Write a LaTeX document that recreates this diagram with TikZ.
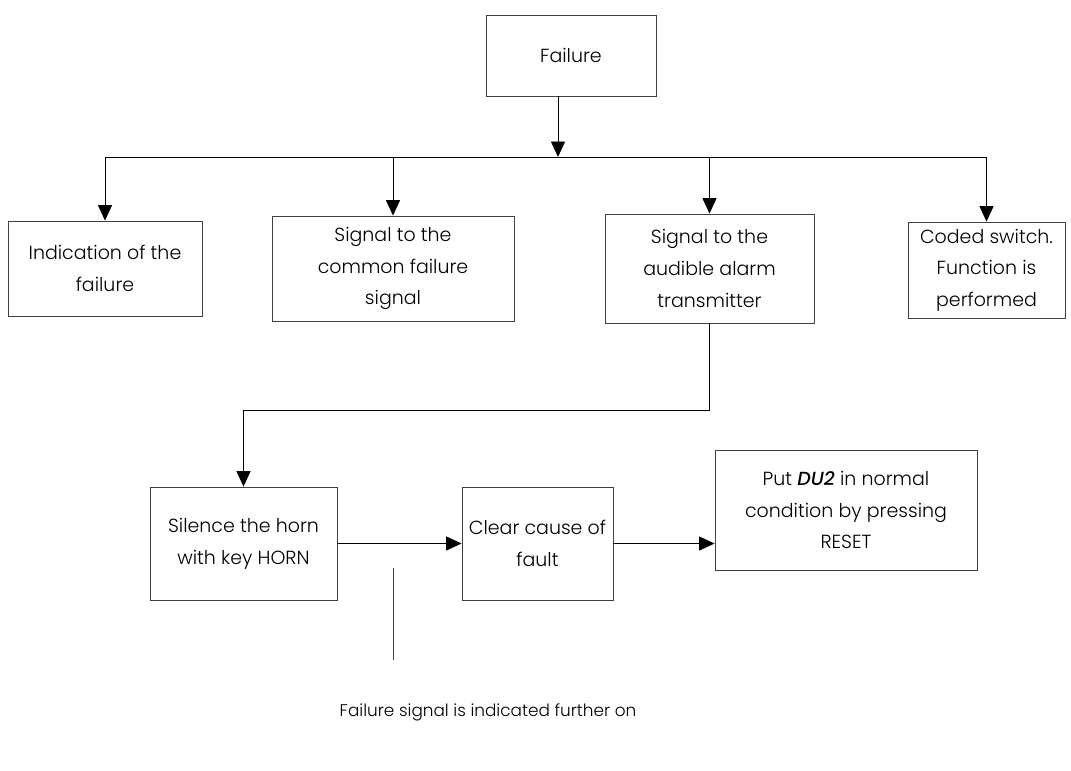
\documentclass[tikz,border=0pt]{standalone}
\usepackage{fontspec}
\setmainfont{Poppins}[UprightFont={* Light},BoldItalicFont={* Medium Italic}]
\usetikzlibrary{arrows.meta}

\begin{document}
\begin{tikzpicture}[x=0.025cm,y=-0.025cm,
    box/.style={draw=black!75,line width=0.6pt,align=center,inner sep=0pt,
      font=\fontsize{13.5}{22.5}\selectfont},
    flow/.style={line width=0.6pt,-{Triangle[length=11pt,width=10pt]}}]
  \useasboundingbox (0,0) rectangle (1071,770);

  \node[box,minimum width=4.25cm,minimum height=2.025cm]  (fail)    at (571,55.5)  {Failure};
  \node[box,minimum width=4.85cm,minimum height=2.375cm]  (indic)   at (105,268.5) {Indication of the\\failure};
  \node[box,minimum width=6.05cm,minimum height=2.625cm]  (common)  at (393,268.5) {Signal to the\\common failure\\signal};
  \node[box,minimum width=5.225cm,minimum height=2.725cm] (audible) at (709.5,268.5) {Signal to the\\audible alarm\\transmitter};
  \node[box,minimum width=3.925cm,minimum height=2.4cm]   (coded)   at (986.5,270) {Coded switch.\\Function is\\performed};
  \node[box,minimum width=4.675cm,minimum height=2.825cm] (horn)    at (243.5,543.5) {Silence the horn\\with key HORN};
  \node[box,minimum width=3.775cm,minimum height=2.825cm] (clear)   at (537.5,543.5) {Clear cause of\\fault};
  \node[box,minimum width=6.55cm,minimum height=3cm]      (reset)   at (846,510) {Put \textbf{\textit{DU2}} in normal\\condition by pressing\\RESET};
  \node[font=\fontsize{12}{15}\selectfont] (note) at (488,712) {Failure signal is indicated further on};

  \coordinate (bus)   at (558,157);
  \coordinate (turn)  at (243.5,410);
  \coordinate (tickA) at (393,568);
  \coordinate (tickB) at (393,660);

  % failure to the four reactions
  \draw[flow] (fail.south -| bus) -- (bus);
  \draw[line width=0.6pt] (indic.north |- bus) -- (coded.north |- bus);
  \draw[flow] (indic.north |- bus) -- (indic.north);
  \draw[flow] (common.north |- bus) -- (common.north);
  \draw[flow] (audible.north |- bus) -- (audible.north);
  \draw[flow] (coded.north |- bus) -- (coded.north);

  % acknowledge and reset
  \draw[flow] (audible.south) |- (turn) -- (horn.north);
  \draw[flow] (horn) -- (clear);
  \draw[flow] (clear) -- (clear -| reset.west);
  \draw[line width=0.6pt,black!75] (tickA) -- (tickB);
\end{tikzpicture}
\end{document}
